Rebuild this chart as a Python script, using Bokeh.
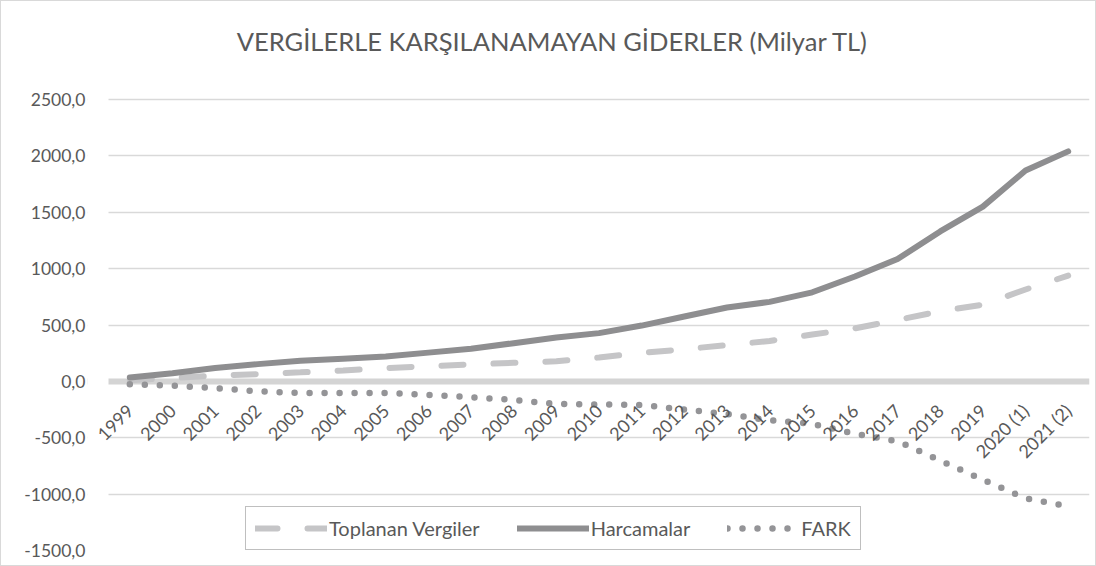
import math
from bokeh.plotting import figure
from bokeh.models import (Range1d, FixedTicker, Legend, LegendItem, Grid, BoxAnnotation,
                          ColumnDataSource, Label, LinearAxis)
from bokeh.embed import file_html
from bokeh.resources import INLINE

# ---------------- data ----------------
years = ["1999", "2000", "2001", "2002", "2003", "2004", "2005", "2006", "2007",
         "2008", "2009", "2010", "2011", "2012", "2013", "2014", "2015", "2016",
         "2017", "2018", "2019", "2020 (1)", "2021 (2)"]
toplanan_vergiler = [10, 30, 50, 65, 80, 97, 118, 135, 150, 165, 178, 212, 252,
                     285, 322, 358, 415, 470, 545, 622, 680, 815, 938]
harcamalar = [35, 72, 118, 153, 183, 200, 221, 255, 289, 339, 389, 428, 495,
              575, 655, 705, 790, 930, 1085, 1330, 1550, 1870, 2040]
fark = [-25, -38, -60, -88, -103, -103, -103, -120, -140, -165, -200, -205, -210,
        -250, -290, -345, -377, -465, -531, -702, -873, -1038, -1109]
y_ticks = [-1500, -1000, -500, 0, 500, 1000, 1500, 2000, 2500]
y_tick_labels = ["-1500,0", "-1000,0", "-500,0", "0,0", "500,0", "1000,0",
                 "1500,0", "2000,0", "2500,0"]
title_text = "VERGİLERLE KARŞILANAMAYAN GİDERLER (Milyar TL)"
series_names = ["Toplanan Vergiler", "Harcamalar", "FARK"]

FONT = "Lato"
TXT = "#595959"

n = len(years)
xpos = list(range(n))
src = ColumnDataSource(dict(x=xpos, v=toplanan_vergiler, h=harcamalar, f=fark))

# ---------------- layout ----------------
W, H = 1096, 566
PLOT_L, PLOT_R = 107, 1088            # page x of the category band edges
FRAME_L = 86                          # frame starts a bit further left (room for rotated labels)
MB = 17
GRID_TOP_PX = 98
frame_h = H - MB
cw = (PLOT_R - PLOT_L) / n
x_start = -0.5 - (PLOT_L - FRAME_L) / cw
x_end = n - 0.5
ymin, ymax_tick = y_ticks[0], y_ticks[-1]
px_per_unit = (frame_h - GRID_TOP_PX) / (ymax_tick - ymin)
y_end = ymin + frame_h / px_per_unit

p = figure(width=W, height=H,
           x_range=Range1d(x_start, x_end),
           y_range=Range1d(ymin, y_end),
           output_backend="svg", toolbar_location=None,
           x_axis_location=None, y_axis_location=None,
           min_border_left=FRAME_L, min_border_right=W - PLOT_R,
           min_border_top=0, min_border_bottom=MB)
p.styles = {"border": "1px solid #d9d9d9", "box-sizing": "border-box"}
p.outline_line_color = None
p.grid.visible = False

# y axis (labels only)
yaxis = LinearAxis(ticker=FixedTicker(ticks=y_ticks))
yaxis.major_label_overrides = {t: l for t, l in zip(y_ticks, y_tick_labels)}
yaxis.axis_line_color = None
yaxis.major_tick_line_color = None
yaxis.minor_tick_line_color = None
yaxis.major_tick_out = 0
yaxis.major_tick_in = 0
yaxis.minor_tick_out = 0
yaxis.minor_tick_in = 0
yaxis.major_label_text_font = FONT
yaxis.major_label_text_font_size = "17.5px"
yaxis.major_label_text_color = TXT
yaxis.major_label_standoff = 2
p.add_layout(yaxis, "left")

# horizontal gridlines
grid = Grid(dimension=1, ticker=FixedTicker(ticks=[t for t in y_ticks if t != 0]),
            grid_line_color="#d9d9d9", grid_line_width=1.5)
p.add_layout(grid)
zero_grid = Grid(dimension=1, ticker=FixedTicker(ticks=[0]),
                 grid_line_color="#d4d4d4", grid_line_width=6)
p.add_layout(zero_grid)
# keep the gridlines inside the category band (mask the extra strip on the left)
mask = BoxAnnotation(right=-0.5, fill_color="white", fill_alpha=1,
                     line_color=None, level="underlay")
p.add_layout(mask)

# category axis sitting on the zero line (Excel style)
xaxis = LinearAxis(ticker=FixedTicker(ticks=xpos), fixed_location=0)
xaxis.major_label_overrides = {i: y for i, y in zip(xpos, years)}
xaxis.axis_line_color = None
xaxis.major_tick_line_color = None
xaxis.minor_tick_line_color = None
xaxis.major_label_orientation = math.pi / 4
xaxis.major_label_standoff = 20
xaxis.major_label_text_font = FONT
xaxis.major_label_text_font_size = "18px"
xaxis.major_label_text_color = TXT
p.add_layout(xaxis, "below")

# title (placed in data space above the top gridline)
title_x = -0.5 + (551 - PLOT_L) / cw
title_y = ymax_tick + (GRID_TOP_PX - 39) / px_per_unit
title = Label(x=title_x, y=title_y, text=title_text,
              text_align="center", text_baseline="middle",
              text_font=FONT, text_font_size="25.5px", text_color=TXT)
p.add_layout(title)

r_v = p.line("x", "v", source=src, line_color="#c5c5c7", line_width=6,
             line_dash="22 30", line_cap="round")
r_h = p.line("x", "h", source=src, line_color="#8e8e90", line_width=6,
             line_join="round", line_cap="round")
r_f = p.line("x", "f", source=src, line_color="#949497", line_width=6.5,
             line_dash="0 15", line_cap="round")

legend = Legend(items=[LegendItem(label=series_names[0], renderers=[r_v]),
                       LegendItem(label=series_names[1], renderers=[r_h]),
                       LegendItem(label=series_names[2], renderers=[r_f])],
                orientation="horizontal", location=(137 + PLOT_L - FRAME_L, 0))
legend.border_line_color = "#808080"
legend.border_line_width = 1
legend.background_fill_color = "white"
legend.background_fill_alpha = 1
legend.padding = 9
legend.margin = 0
legend.spacing = 37
legend.glyph_width = 72
legend.glyph_height = 24
legend.label_standoff = 2
legend.label_text_font = FONT
legend.label_text_font_size = "20px"
legend.label_text_color = TXT
p.add_layout(legend, "center")

open("out.html", "w").write(file_html(p, INLINE))
